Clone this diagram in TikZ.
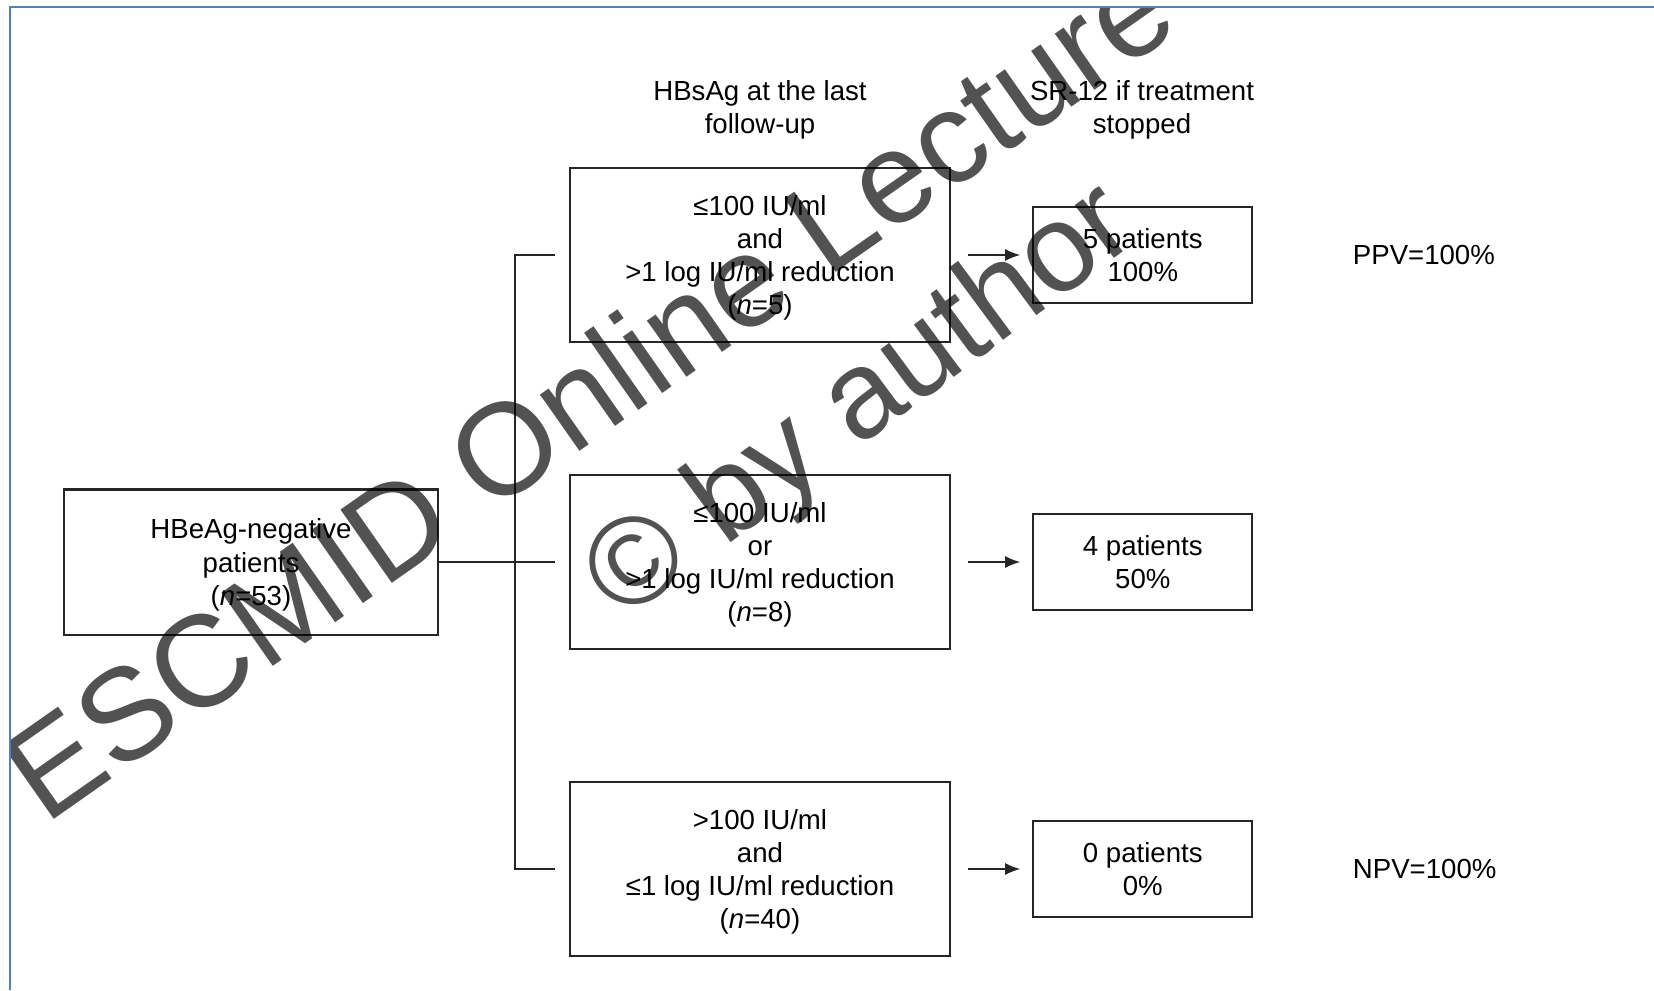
\documentclass[tikz,border=0pt]{standalone}
\usepackage{fontspec}
\setmainfont{Liberation Sans}
\usetikzlibrary{arrows.meta,positioning}
\definecolor{frameBlue}{HTML}{4F81BD}

\begin{document}
\begin{tikzpicture}[
        x=0.01cm, y=-0.01cm,
        groupBox/.style={
            draw=black!85,
            line width=0.6pt,
            minimum width=3.73cm,
            minimum height=1.45cm,
            align=center,
            text depth=0pt,
            font=\fontsize{7.85}{9.4}\selectfont,
            inner sep=0pt
        },
        levelBox/.style={
            groupBox,
            minimum width=3.8cm,
            minimum height=1.74cm
        },
        outcomeBox/.style={
            groupBox,
            minimum width=2.19cm,
            minimum height=0.96cm
        },
        header/.style={
            align=center,
            font=\fontsize{7.85}{9.4}\selectfont
        },
        valueLabel/.style={
            font=\fontsize{7.85}{9.4}\selectfont
        },
        link/.style={
            draw=black!85,
            line width=0.45pt
        },
        flow/.style={
            link,
            -{Latex[length=1.5mm,width=1.2mm]}
        },
        stamp/.style={
            font=\fontsize{35.4}{42}\selectfont,
            text=black,
            text opacity=0.68,
            rotate=36.5,
            anchor=base west,
            inner sep=0pt
        }
    ]

        \useasboundingbox (0,0) rectangle (1654,990);

        % Slide frame
        \draw[frameBlue, line width=0.8pt] (10,990) -- (10,7) -- (1654,7);

        % Column headings
        \node[header] (levelHeader) at (760,110) {HBsAg at the last\\follow-up};
        \node[header] (outcomeHeader) at (1142,110) {SR-12 if treatment\\stopped};

        % Starting group
        \node[groupBox] (cohort) at (251,562) {
            HBeAg-negative\\
            patients\\
            (\textit{n}=53)
        };

        % Row 1
        \node[levelBox] (lowDrop) at (760,255) {
            ≤100 IU/ml\\
            and\\
            >1 log IU/ml reduction\\
            (\textit{n}=5)
        };

        \node[
            outcomeBox,
            right=0.81cm of lowDrop
        ] (lowDropResult) {
            5 patients\\
            100\%
        };

        \node[
            valueLabel,
            right=0.87cm of lowDropResult
        ] (ppv) {PPV=100\%};

        % Row 2
        \node[levelBox] (eitherOne) at (760,562) {
            ≤100 IU/ml\\
            or\\
            >1 log IU/ml reduction\\
            (\textit{n}=8)
        };

        \node[
            outcomeBox,
            right=0.81cm of eitherOne
        ] (eitherOneResult) {
            4 patients\\
            50\%
        };

        % Row 3
        \node[levelBox] (highFlat) at (760,869) {
            >100 IU/ml\\
            and\\
            ≤1 log IU/ml reduction\\
            (\textit{n}=40)
        };

        \node[
            outcomeBox,
            right=0.81cm of highFlat
        ] (highFlatResult) {
            0 patients\\
            0\%
        };

        \node[
            valueLabel,
            right=0.87cm of highFlatResult
        ] (npv) {NPV=100\%};

        % Connectors
        \draw[link] (cohort.east) -- ([xshift=-0.14cm]eitherOne.west);
        \draw[link] ([xshift=-0.14cm]lowDrop.west) -| ([xshift=-0.54cm]highFlat.west)
            -- ([xshift=-0.14cm]highFlat.west);

        \draw[flow] ([xshift=0.17cm]lowDrop.east) -- ([xshift=-0.12cm]lowDropResult.west);
        \draw[flow] ([xshift=0.17cm]eitherOne.east) -- ([xshift=-0.12cm]eitherOneResult.west);
        \draw[flow] ([xshift=0.17cm]highFlat.east) -- ([xshift=-0.12cm]highFlatResult.west);

        % Watermark
        \begin{scope}
            \clip (11,8) rectangle (1654,990);
            \node[stamp, rotate=-1.5, font=\fontsize{37}{42}\selectfont] (stampTop) at (45,826) {ESCMID Online Lecture Library};
            \node[stamp] (stampBottom) at (622,623) {© by author};
        \end{scope}

    \end{tikzpicture}
\end{document}
